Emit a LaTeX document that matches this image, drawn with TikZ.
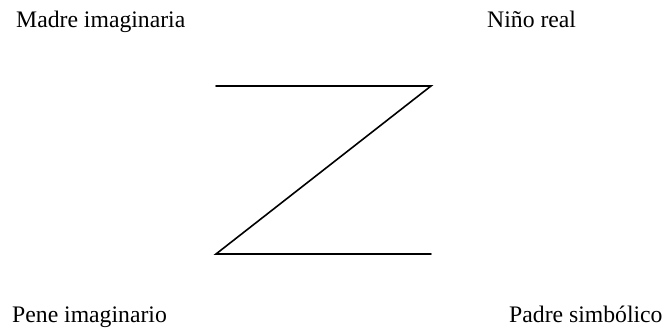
\documentclass[tikz,border=0pt]{standalone}
\usepackage{fontspec}
\setmainfont{Liberation Serif}
\begin{document}
\begin{tikzpicture}[x=1pt,y=-1pt,
  lbl/.style={anchor=base west,inner sep=0pt,font=\fontsize{23.7}{28}\selectfont},
  zline/.style={line width=1.6pt,line cap=round,line join=miter}]
\useasboundingbox (0,0) rectangle (667,331);
\node[lbl] (madre) at (16,28) {Madre imaginaria};
\node[lbl] (nino) at (487,28) {Niño real};
\node[lbl] (pene) at (12,323) {Pene imaginario};
\node[lbl] (padre) at (509,323) {Padre simbólico};
\coordinate (tl) at (216,86);
\coordinate (tr) at (431,86);
\coordinate (bl) at (216,254);
\coordinate (br) at (431,254);
\draw[zline] (tl) -- (tr) -- (bl) -- (br);
\end{tikzpicture}
\end{document}
